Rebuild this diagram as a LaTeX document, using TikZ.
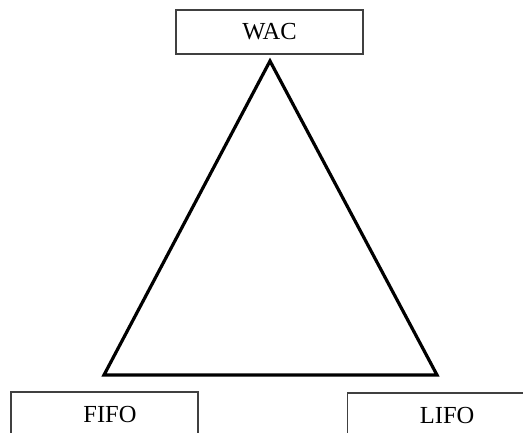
\documentclass[tikz,border=0pt]{standalone}
\usepackage{fontspec}
\setmainfont{Liberation Serif}
\begin{document}
\begin{tikzpicture}[x=1pt,y=1pt,
  labelbox/.style={draw=black!75, line width=1.3pt, rectangle, inner sep=0pt,
    font=\fontsize{24.5}{28}\selectfont},
  edge/.style={line width=3.2pt, line join=miter, draw=black}]
  \useasboundingbox (0,0) rectangle (523,432);
  \clip (0,0) rectangle (523,432);
  % method boxes
  \node[labelbox, minimum width=187pt, minimum height=44pt] (wac) at (269.5,400) {WAC};
  \node[labelbox, minimum width=187pt, minimum height=46pt] (fifo) at (104.5,17) {\hspace*{11pt}FIFO};
  \node[labelbox, minimum width=220pt, minimum height=45pt, anchor=west] (lifo) at (347,16.5) {LIFO\hspace*{21pt}};
  % triangle corners
  \coordinate (top) at (270,371);
  \coordinate (left) at (104,57);
  \coordinate (right) at (437,57);
  \draw[edge] (top) -- (left) -- (right) -- cycle;
\end{tikzpicture}
\end{document}
